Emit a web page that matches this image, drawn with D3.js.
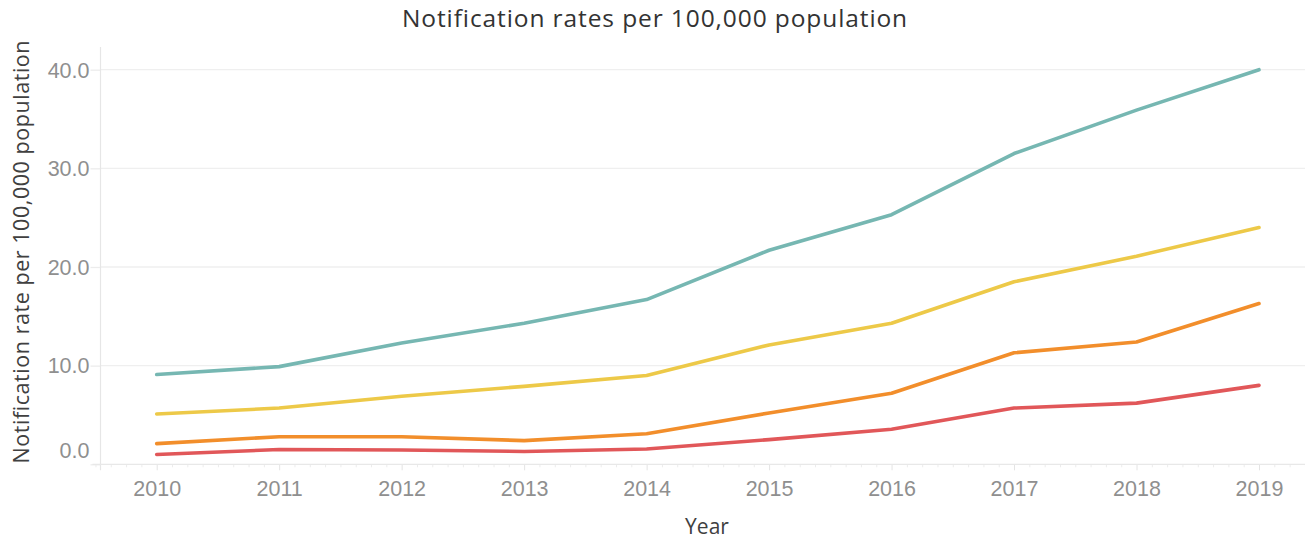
<!DOCTYPE html>
<html>
<head>
<meta charset="utf-8">
<script src="https://cdn.jsdelivr.net/npm/d3@7"></script>
<style>
  html, body { margin: 0; padding: 0; background: #fff; }
  svg { display: block; font-family: "Open Sans", Lato, sans-serif; }
</style>
</head>
<body>
<svg id="chart" width="1305" height="541"></svg>
<script>
// Notification rates per 100,000 population, 2010–2019
const years = [2010, 2011, 2012, 2013, 2014, 2015, 2016, 2017, 2018, 2019];
const rateTeal   = [9.1, 9.9, 12.3, 14.3, 16.7, 21.7, 25.3, 31.5, 35.9, 40.0];
const rateYellow = [5.1, 5.7, 6.9, 7.9, 9.0, 12.1, 14.3, 18.5, 21.1, 24.0];
const rateOrange = [2.1, 2.8, 2.8, 2.4, 3.1, 5.2, 7.2, 11.3, 12.4, 16.3];
const rateRed    = [1.0, 1.5, 1.45, 1.3, 1.55, 2.5, 3.55, 5.7, 6.2, 8.0];
const yTicks = [0, 10, 20, 30, 40];

const series = [
  { values: rateTeal,   color: "#76b7b2" },
  { values: rateYellow, color: "#edc948" },
  { values: rateOrange, color: "#f28e2b" },
  { values: rateRed,    color: "#e15759" }
];

const svg = d3.select("#chart");
const plot = { left: 100.5, right: 1305, top: 47, bottom: 464.3 };

const x = d3.scaleLinear().domain([2010, 2019]).range([156.7, 1259]);
const y = d3.scaleLinear().domain([0, 42.3]).range([plot.bottom, plot.top]);

// horizontal gridlines
svg.append("g")
  .selectAll("line")
  .data(yTicks.filter(d => d > 0))
  .join("line")
  .attr("x1", plot.left).attr("x2", plot.right)
  .attr("y1", d => y(d)).attr("y2", d => y(d))
  .attr("stroke", "#efefef").attr("stroke-width", 1.3);

// y axis
const yAxis = svg.append("g")
  .attr("transform", `translate(${plot.left},0)`)
  .call(d3.axisLeft(y).tickValues(yTicks).tickFormat(d3.format(".1f")).tickSize(10).tickPadding(1));
yAxis.select(".domain").remove();
yAxis.append("line")
  .attr("x1", 0).attr("x2", 0).attr("y1", plot.top).attr("y2", plot.bottom + 6)
  .attr("stroke", "#e6e6e6").attr("stroke-width", 1.2);
yAxis.selectAll(".tick line").attr("stroke", "#ececec").attr("stroke-width", 1.3);
yAxis.selectAll(".tick text")
  .attr("fill", "#8f8f8f").style("font-size", "21.5px")
  .attr("dy", d => d === 0 ? "-0.32em" : "0.34em");

// x axis baseline with minor ticks
const minor = d3.range(2009.5, 2019.51, 0.125).filter(v => Math.abs(v - Math.round(v)) > 1e-6);
const xMinor = svg.append("g")
  .attr("transform", `translate(0,${plot.bottom})`)
  .call(d3.axisBottom(x).tickValues(minor).tickFormat("").tickSize(3));
xMinor.select(".domain").remove();
xMinor.selectAll(".tick line").attr("stroke", "#ececec");

const xAxis = svg.append("g")
  .attr("transform", `translate(0,${plot.bottom})`)
  .call(d3.axisBottom(x).tickValues(years).tickFormat(d3.format("d")).tickSize(6).tickPadding(10));
xAxis.select(".domain").remove();
xAxis.append("line")
  .attr("x1", plot.left - 8).attr("x2", plot.right).attr("y1", 0).attr("y2", 0)
  .attr("stroke", "#e8e8e8").attr("stroke-width", 1.3);
xAxis.selectAll(".tick line").attr("stroke", "#e4e4e4");
xAxis.selectAll(".tick text").attr("fill", "#8f8f8f").style("font-size", "21.5px");

// series lines
const line = d3.line()
  .x((d, i) => x(years[i]))
  .y(d => y(d));

svg.append("g")
  .selectAll("path")
  .data(series.slice().reverse())
  .join("path")
  .attr("d", s => line(s.values))
  .attr("fill", "none")
  .attr("stroke", s => s.color)
  .attr("stroke-width", 3.6)
  .attr("stroke-linejoin", "round")
  .attr("stroke-linecap", "round");

// titles
svg.append("text")
  .attr("x", 655).attr("y", 27)
  .attr("text-anchor", "middle")
  .attr("fill", "#333")
  .style("font-size", "24.5px")
  .style("letter-spacing", "0.9px")
  .text("Notification rates per 100,000 population");

svg.append("text")
  .attr("transform", `translate(29,${(plot.top + plot.bottom) / 2 - 4}) rotate(-90)`)
  .attr("text-anchor", "middle")
  .attr("fill", "#404040")
  .style("font-size", "21.5px")
  .style("letter-spacing", "0.55px")
  .text("Notification rate per 100,000 population");

svg.append("text")
  .attr("x", 707).attr("y", 534)
  .attr("text-anchor", "middle")
  .attr("fill", "#404040")
  .style("font-size", "21px")
  .text("Year");
</script>
</body>
</html>
